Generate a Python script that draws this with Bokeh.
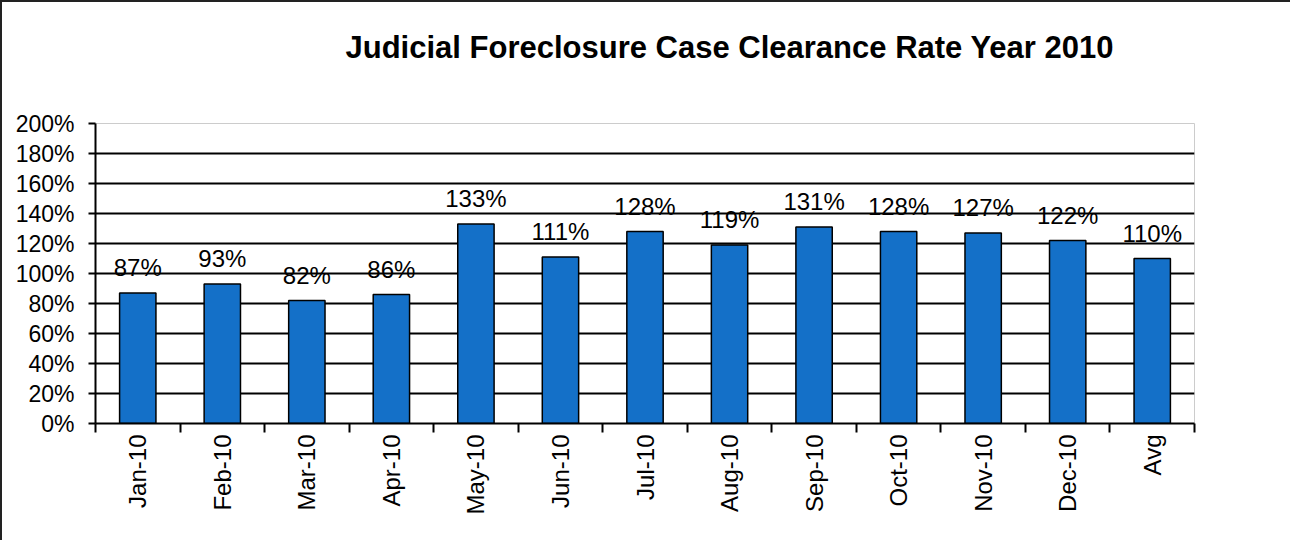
from bokeh.plotting import figure
from bokeh.models import FixedTicker, PrintfTickFormatter, LabelSet, ColumnDataSource, Range1d, Title
from bokeh.core.properties import value
from bokeh.embed import file_html
from bokeh.resources import INLINE
import math

months = ["Jan-10", "Feb-10", "Mar-10", "Apr-10", "May-10", "Jun-10", "Jul-10",
          "Aug-10", "Sep-10", "Oct-10", "Nov-10", "Dec-10", "Avg"]
rates = [87, 93, 82, 86, 133, 111, 128, 119, 131, 128, 127, 122, 110]
y_ticks = [0, 20, 40, 60, 80, 100, 120, 140, 160, 180, 200]
title_text = "Judicial Foreclosure Case Clearance Rate Year 2010"

FONT = "Liberation Sans"
xs = list(range(len(months)))
src = ColumnDataSource(dict(x=xs, y=rates, lab=[f"{v}%" for v in rates]))

p = figure(width=1290, height=540, output_backend="svg", toolbar_location=None,
           x_range=Range1d(-0.5, len(months) - 0.5), y_range=Range1d(0, 200),
           min_border_left=93, min_border_right=98, min_border_top=121, min_border_bottom=119,
           styles={"border-top": "2px solid #222", "border-left": "2px solid #222"})
p.outline_line_color = "#cccccc"
p.outline_line_width = 1

# spacer between title and plot area
p.add_layout(Title(text=" ", text_font_size="2px", standoff=50), "above")

p.title.text = title_text
p.title.align = "left"
p.title.offset = 250
p.title.standoff = 10
p.title.text_font = FONT
p.title.text_font_size = "31px"
p.title.text_font_style = "bold"
p.title.text_color = "black"

p.vbar(x="x", top="y", width=0.43, source=src, fill_color="#1470c8",
       line_color="black", line_width=1.5)

# axes
p.yaxis.ticker = FixedTicker(ticks=y_ticks)
p.yaxis.formatter = PrintfTickFormatter(format="%d%%")
p.yaxis.major_label_text_font = FONT
p.yaxis.major_label_text_font_size = "23px"
p.yaxis.major_label_text_color = "black"
p.yaxis.axis_line_color = "black"
p.yaxis.axis_line_width = 2
p.yaxis.major_tick_line_color = "black"
p.yaxis.major_tick_line_width = 2
p.yaxis.major_tick_out = 7
p.yaxis.major_tick_in = 0
p.yaxis.minor_tick_line_color = None
p.yaxis.major_label_standoff = 14

p.xaxis.ticker = FixedTicker(ticks=xs, minor_ticks=[i - 0.5 for i in range(len(months) + 1)])
p.xaxis.major_label_overrides = {i: m for i, m in enumerate(months)}
p.xaxis.major_label_orientation = math.pi / 2
p.xaxis.major_label_text_font = FONT
p.xaxis.major_label_text_font_size = "24px"
p.xaxis.major_label_text_color = "black"
p.xaxis.major_tick_line_color = None
p.xaxis.minor_tick_line_color = "black"
p.xaxis.minor_tick_line_width = 2
p.xaxis.minor_tick_out = 9
p.xaxis.minor_tick_in = 0
p.xaxis.axis_line_color = "black"
p.xaxis.axis_line_width = 2
p.xaxis.major_label_standoff = 2

p.xgrid.grid_line_color = None
p.ygrid.ticker = FixedTicker(ticks=y_ticks[1:-1])
p.ygrid.grid_line_color = "black"
p.ygrid.grid_line_width = 2

labels = LabelSet(x="x", y="y", text="lab", source=src, y_offset=12,
                  text_align="center", text_baseline="bottom",
                  text_font=value(FONT), text_font_size=value("24px"), text_color="black")
p.add_layout(labels)

open("out.html", "w").write(file_html(p, INLINE))
